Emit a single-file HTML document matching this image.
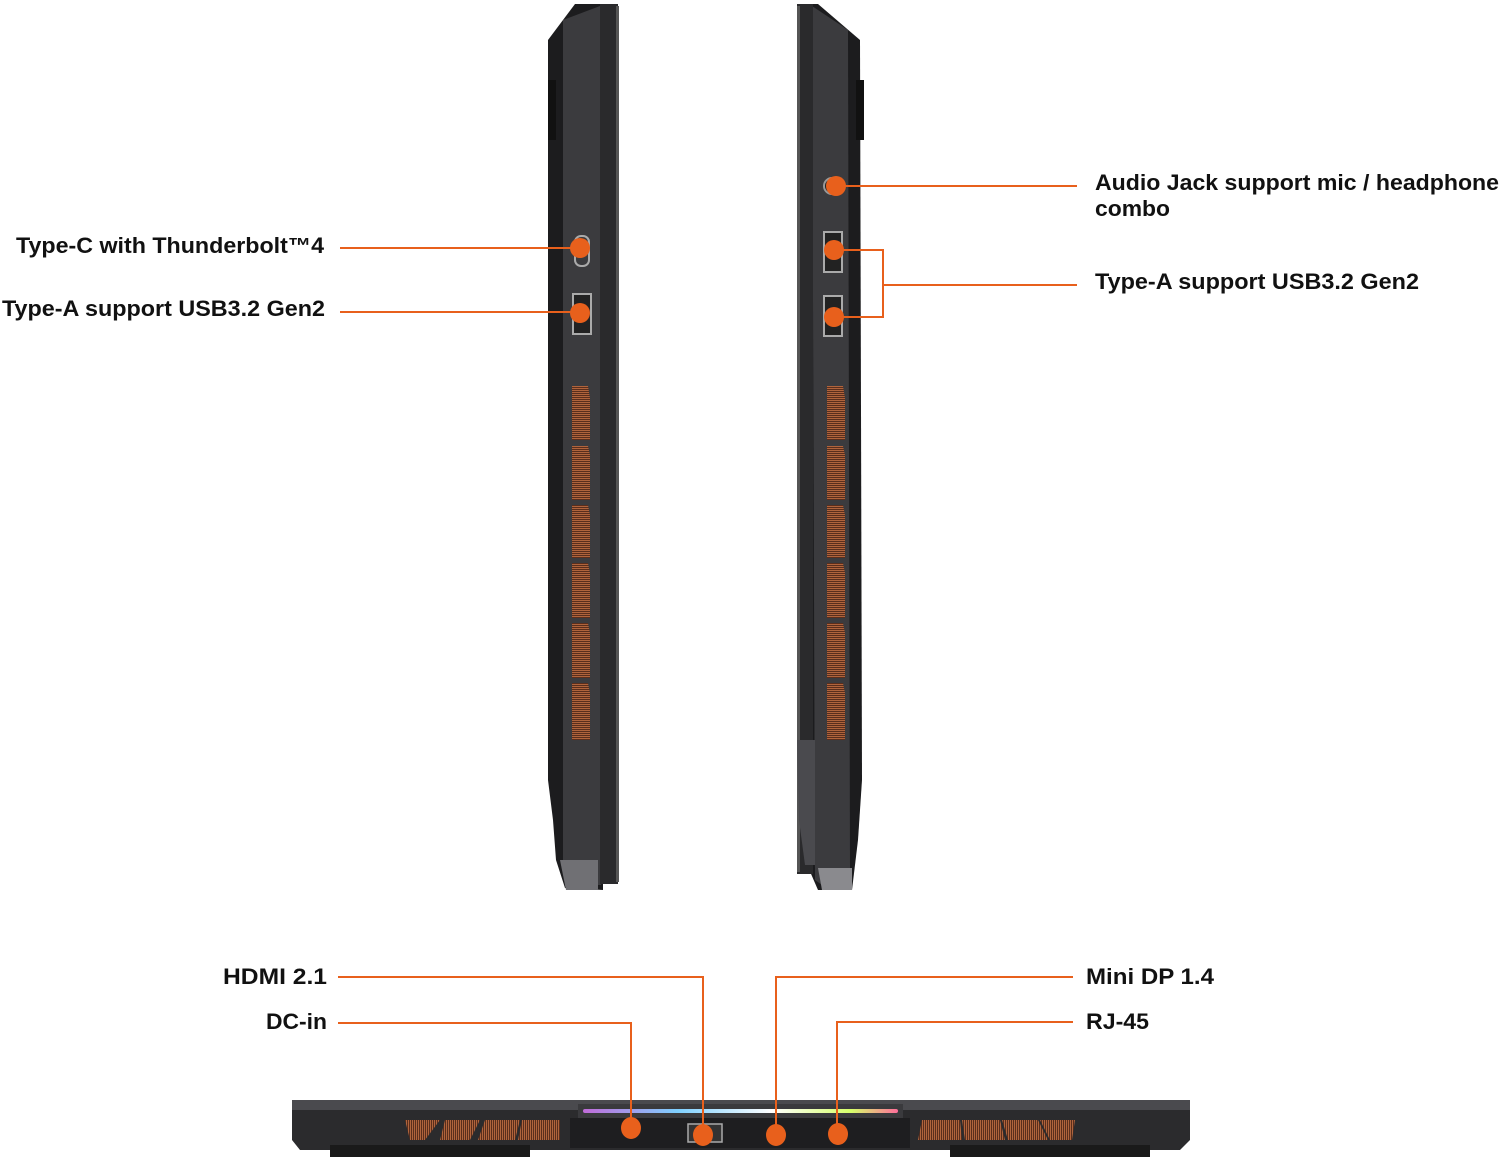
<!DOCTYPE html>
<html><head><meta charset="utf-8"><style>
html,body{margin:0;padding:0;background:#fff;width:1500px;height:1160px;overflow:hidden}
svg text{font-family:"Liberation Sans",sans-serif;font-weight:bold;font-size:22px;fill:#111}
</style></head><body>
<svg width="1500" height="1160" viewBox="0 0 1500 1160" xmlns="http://www.w3.org/2000/svg">
<defs>
<pattern id="vg" width="2" height="2" patternUnits="userSpaceOnUse"><rect width="2" height="2" fill="#5a2e1c"/><rect width="2" height="1" fill="#b0643c"/></pattern>
<pattern id="vh" width="2" height="2" patternUnits="userSpaceOnUse"><rect width="2" height="2" fill="#5a2e1c"/><rect width="1" height="2" fill="#b0643c"/></pattern>
<linearGradient id="rgb" x1="0" x2="1"><stop offset="0" stop-color="#c06bd8"/><stop offset=".3" stop-color="#7fd0ff"/><stop offset=".6" stop-color="#fff"/><stop offset=".85" stop-color="#d6ff6a"/><stop offset="1" stop-color="#ff6d9a"/></linearGradient>
</defs>
<!-- left side laptop -->
<path d="M575 4 L600 4 L603 10 L603 890 L565 888 L556 860 L553 820 L548 780 L548 40 Z" fill="#1c1c1e"/>
<path d="M563 20 L600 6 L601 885 L567 885 L563 860 Z" fill="#3b3b3e"/>
<rect x="600" y="4" width="18" height="880" fill="#2a2a2c"/>
<rect x="616" y="6" width="3" height="876" fill="#555"/>
<rect x="548" y="80" width="8" height="60" fill="#111"/>
<path d="M560 860 L598 860 L598 890 L566 890 Z" fill="#707074"/>
<rect x="575" y="236" width="14" height="30" rx="6" fill="none" stroke="#aaa" stroke-width="2"/>
<rect x="573" y="294" width="18" height="40" fill="#222" stroke="#aaa" stroke-width="2"/>
<g fill="url(#vg)">
<path d="M572 386 L588 386 L590 398 L590 440 L572 440 Z"/>
<path d="M572 446 L588 446 L590 455 L590 500 L572 500 Z"/>
<path d="M572 505 L588 505 L590 515 L590 558 L572 558 Z"/>
<path d="M572 563 L588 563 L590 573 L590 618 L572 618 Z"/>
<path d="M572 623 L588 623 L590 633 L590 678 L572 678 Z"/>
<path d="M572 683 L588 683 L590 693 L590 740 L572 740 Z"/>
</g>
<!-- right side laptop -->
<path d="M798 4 L818 4 L860 40 L862 780 L858 840 L852 890 L818 890 L805 860 L797 820 Z" fill="#1c1c1e"/>
<path d="M812 6 L848 30 L850 870 L822 885 L815 880 Z" fill="#3b3b3e"/>
<rect x="797" y="4" width="16" height="870" fill="#2a2a2c"/>
<rect x="797" y="6" width="3" height="866" fill="#555"/>
<rect x="856" y="80" width="8" height="60" fill="#111"/>
<path d="M818 868 L852 868 L852 890 L822 890 Z" fill="#8a8a8e"/>
<path d="M797 740 L815 740 L815 865 L805 865 L799 820 Z" fill="#4a4a4e"/>
<circle cx="832" cy="186" r="8" fill="#222" stroke="#999" stroke-width="2"/>
<rect x="824" y="232" width="18" height="40" fill="#222" stroke="#aaa" stroke-width="2"/>
<rect x="824" y="296" width="18" height="40" fill="#222" stroke="#aaa" stroke-width="2"/>
<g fill="url(#vg)">
<path d="M827 386 L843 386 L845 398 L845 440 L827 440 Z"/>
<path d="M827 446 L843 446 L845 455 L845 500 L827 500 Z"/>
<path d="M827 505 L843 505 L845 515 L845 558 L827 558 Z"/>
<path d="M827 563 L843 563 L845 573 L845 618 L827 618 Z"/>
<path d="M827 623 L843 623 L845 633 L845 678 L827 678 Z"/>
<path d="M827 683 L843 683 L845 693 L845 740 L827 740 Z"/>
</g>
<!-- rear laptop -->
<path d="M292 1104 L300 1100 L1185 1100 L1190 1106 L1190 1140 L1180 1150 L300 1150 L292 1140 Z" fill="#2b2b2d"/>
<rect x="292" y="1100" width="898" height="10" fill="#4a4a4e"/>
<rect x="578" y="1104" width="325" height="14" fill="#3a3a3d"/>
<rect x="583" y="1109" width="315" height="4" rx="2" fill="url(#rgb)"/>
<rect x="570" y="1118" width="340" height="30" fill="#1e1e20"/>
<rect x="330" y="1145" width="200" height="12" fill="#1a1a1a"/>
<rect x="950" y="1145" width="200" height="12" fill="#1a1a1a"/>
<g fill="url(#vh)">
<path d="M405 1120 L440 1120 L425 1140 L410 1140 Z"/>
<path d="M445 1120 L480 1120 L470 1140 L440 1140 Z"/>
<path d="M485 1120 L520 1120 L515 1140 L478 1140 Z"/>
<path d="M522 1120 L560 1120 L560 1140 L518 1140 Z"/>
<path d="M922 1120 L960 1120 L962 1140 L918 1140 Z"/>
<path d="M962 1120 L1000 1120 L1005 1140 L965 1140 Z"/>
<path d="M1002 1120 L1038 1120 L1048 1140 L1008 1140 Z"/>
<path d="M1040 1120 L1075 1120 L1072 1140 L1050 1140 Z"/>
</g>
<rect x="688" y="1124" width="34" height="18" fill="#333" stroke="#aaa" stroke-width="1.5"/>
<g stroke="#e8601c" stroke-width="2" fill="none">
<path d="M340 248 L580 248"/>
<path d="M340 312 L580 312"/>
<path d="M1077 186 L836 186"/>
<path d="M836 250 L883 250 L883 317 L836 317 M883 285 L1077 285"/>
<path d="M338 977 L703 977 L703 1134"/>
<path d="M338 1023 L631 1023 L631 1128"/>
<path d="M1073 977 L776 977 L776 1134"/>
<path d="M1073 1022 L837 1022 L837 1134"/>
</g>
<g fill="#e8601c">
<circle cx="580" cy="248" r="10"/><circle cx="580" cy="313" r="10"/>
<circle cx="836" cy="186" r="10"/><circle cx="834" cy="250" r="10"/><circle cx="834" cy="317" r="10"/>
<ellipse cx="631" cy="1128" rx="10" ry="11"/><ellipse cx="703" cy="1135" rx="10" ry="11"/>
<ellipse cx="776" cy="1135" rx="10" ry="11"/><ellipse cx="838" cy="1134" rx="10" ry="11"/>
</g>
<text x="16" y="253" textLength="308" lengthAdjust="spacingAndGlyphs">Type-C with Thunderbolt™4</text>
<text x="2" y="316" textLength="323" lengthAdjust="spacingAndGlyphs">Type-A support USB3.2 Gen2</text>
<text x="1095" y="190" textLength="404" lengthAdjust="spacingAndGlyphs">Audio Jack support mic / headphone</text>
<text x="1095" y="216" textLength="75" lengthAdjust="spacingAndGlyphs">combo</text>
<text x="1095" y="289" textLength="324" lengthAdjust="spacingAndGlyphs">Type-A support USB3.2 Gen2</text>
<text x="223" y="984" textLength="104" lengthAdjust="spacingAndGlyphs">HDMI 2.1</text>
<text x="266" y="1029" textLength="61" lengthAdjust="spacingAndGlyphs">DC-in</text>
<text x="1086" y="984" textLength="128" lengthAdjust="spacingAndGlyphs">Mini DP 1.4</text>
<text x="1086" y="1029" textLength="63" lengthAdjust="spacingAndGlyphs">RJ-45</text>
</svg>
</body></html>
